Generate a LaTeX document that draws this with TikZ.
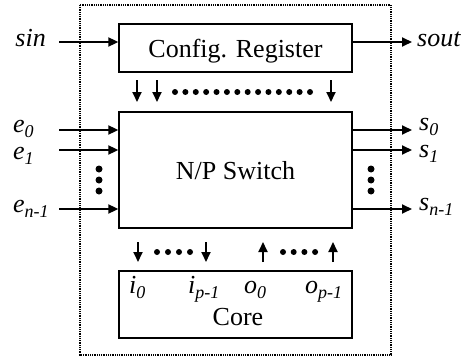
\documentclass[tikz,border=0pt]{standalone}
\usepackage{fontspec}
\setmainfont{Liberation Serif}
\usetikzlibrary{arrows.meta,calc}
\newcommand\subl[1]{\raisebox{-5pt}{\fontsize{18}{19}\selectfont\itshape #1}}
\tikzset{
  blk/.style={draw, line width=1.3pt, inner sep=0pt},
  arr/.style={line width=1.8pt, -{Triangle[length=10pt,width=9pt]}},
  lbl/.style={inner sep=0pt, font=\fontsize{26}{30}\selectfont\itshape},
  txt/.style={inner sep=0pt, font=\fontsize{26}{30}\selectfont},
  bigdot/.style={fill, circle, inner sep=0pt, minimum size=6pt},
}
\begin{document}
\begin{tikzpicture}[x=1pt,y=-1pt]
\useasboundingbox (0,0) rectangle (476,361);
% outer dotted frame
\draw[line width=1.7pt, dash pattern=on 1pt off 0.8pt] (80,5) rectangle (391,355);
% blocks
\node[blk, minimum width=233pt, minimum height=48pt] (cfg) at (235.5,48) {};
\node[blk, minimum width=233pt, minimum height=116pt] (sw) at (235.5,170) {};
\node[blk, minimum width=233pt, minimum height=67pt] (core) at (235.5,304.5) {};
\node[txt, anchor=base] (cfgt) at (235.5,58) {Config. Register};
\node[txt, anchor=base] (swt) at (235.5,179) {N/P Switch};
\node[txt, anchor=base] (coret) at (238,325) {Core};
% sin / sout
\node[lbl, anchor=base east] (sin) at (46,47) {sin};
\node[lbl, anchor=base west] (sout) at (417,47) {sout};
\coordinate (sinp) at (59,42);
\coordinate (soutp) at (412,42);
\draw[arr] (sinp) -- (sinp -| cfg.west);
\draw[arr] (soutp -| cfg.east) -- (soutp);
% inputs / outputs
\foreach \nm/\y/\b/\c/\s in {0/130/132/130/0, 1/150/159/157/1, n/209/212/210/n-1}{
  \node[lbl, anchor=base west] (e\nm) at (13,\b) {e\subl{\s}};
  \node[lbl, anchor=base west] (s\nm) at (419,\c) {s\subl{\s}};
  \coordinate (ei\nm) at (59,\y);
  \coordinate (so\nm) at (412,\y);
  \draw[arr] (ei\nm) -- (ei\nm -| sw.west);
  \draw[arr] (so\nm -| sw.east) -- (so\nm);
}
% vertical dots
\foreach \y [count=\k] in {169,180,191}{
  \node[bigdot, minimum size=7pt] (ld\k) at (99,\y) {};
  \node[bigdot, minimum size=7pt] (rd\k) at (371,\y) {};
}
% config -> switch arrows
\foreach \x [count=\k] in {137,157,331}{
  \coordinate (ca\k) at (\x,80);
  \coordinate (cb\k) at (\x,102);
  \draw[arr] (ca\k) -- (cb\k);
}
\foreach \k in {0,...,13}{
  \node[bigdot] (cd\k) at ({175+\k*135/13},92) {};
}
% switch <-> core arrows
\foreach \x [count=\k] in {138,206}{
  \coordinate (da\k) at (\x,242);
  \coordinate (db\k) at (\x,262);
  \draw[arr] (da\k) -- (db\k);
}
\foreach \x [count=\k] in {263,333}{
  \coordinate (ua\k) at (\x,262);
  \coordinate (ub\k) at (\x,242);
  \draw[arr] (ua\k) -- (ub\k);
}
\foreach \k in {0,...,3}{
  \node[bigdot] (bd\k) at ({157+\k*11},252) {};
  \node[bigdot] (be\k) at ({283+\k*10.7},252) {};
}
% core port labels
\node[lbl, anchor=base west] (i0) at (129,293) {i\subl{0}};
\node[lbl, anchor=base west] (ip) at (188,293) {i\subl{p-1}};
\node[lbl, anchor=base west] (o0) at (244,293) {o\subl{0}};
\node[lbl, anchor=base west] (op) at (305,293) {o\subl{p-1}};
\end{tikzpicture}
\end{document}
